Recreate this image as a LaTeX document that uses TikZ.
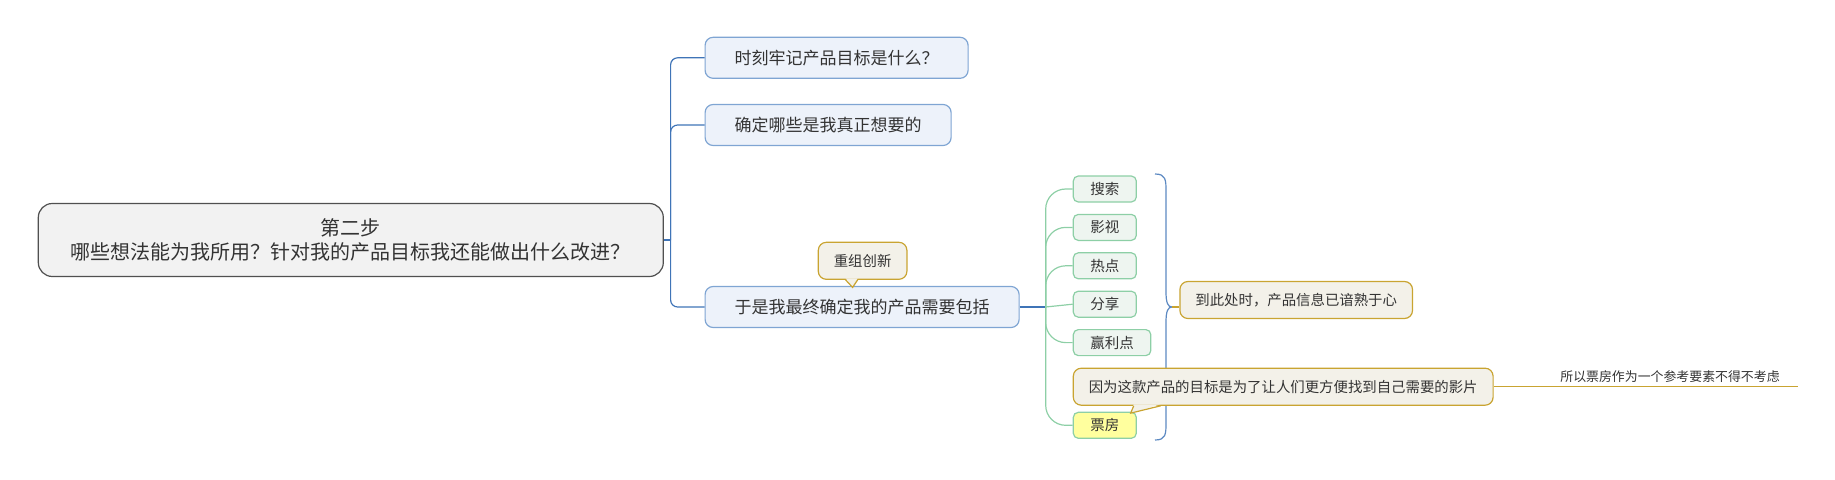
\documentclass[tikz,border=0pt]{standalone}
\usepackage{fontspec}
\setmainfont{Noto Sans CJK SC}
\usetikzlibrary{calc}

\definecolor{rootfill}{HTML}{F2F2F2}
\definecolor{rootedge}{HTML}{505050}
\definecolor{bluefill}{HTML}{EDF2FA}
\definecolor{blueedge}{HTML}{7FA5D3}
\definecolor{blueline}{HTML}{3F74B7}
\definecolor{greenfill}{HTML}{EEF5F0}
\definecolor{greenedge}{HTML}{8DCFA6}
\definecolor{boxoffice}{HTML}{FFFF9E}
\definecolor{notefill}{HTML}{F3F1E9}
\definecolor{noteedge}{HTML}{C9A431}
\definecolor{inkgray}{HTML}{333333}

\tikzset{
  rootbox/.style={draw=rootedge, fill=rootfill, line width=1.2pt, rounded corners=14pt,
    minimum width=625pt, minimum height=73pt, align=center, text=inkgray,
    font=\fontsize{20}{24}\selectfont},
  topicbox/.style={draw=blueedge, fill=bluefill, line width=1.2pt, rounded corners=8pt,
    minimum height=41pt, inner xsep=29.5pt, anchor=west, text=inkgray,
    font=\fontsize{17}{20}\selectfont},
  leafbox/.style={draw=greenedge, fill=greenfill, line width=1.2pt, rounded corners=5pt,
    minimum height=26pt, inner xsep=17pt, anchor=west, text=inkgray,
    font=\fontsize{14.5}{17}\selectfont},
  notebox/.style={draw=noteedge, fill=notefill, line width=1.2pt, rounded corners=8pt,
    minimum height=37pt, inner xsep=15.5pt, anchor=west, text=inkgray,
    font=\fontsize{14.4}{17}\selectfont},
  blueconn/.style={draw=blueline, line width=1.2pt},
  greenconn/.style={draw=greenedge, line width=1.2pt, rounded corners=20pt},
  goldconn/.style={draw=noteedge, line width=1.2pt},
}

\begin{document}
\begin{tikzpicture}[x=1pt, y=-1pt]
\useasboundingbox (0,0) rectangle (1835,479);

% main topic
\node[rootbox] (root) at (350.8,240) {第二步\\哪些想法能为我所用？针对我的产品目标我还能做出什么改进？};

% three sub topics
\node[topicbox] (c1) at (704.5,57.8) {时刻牢记产品目标是什么？};
\node[topicbox] (c2) at (704.5,125) {确定哪些是我真正想要的};
\node[topicbox] (c3) at (704.5,307) {于是我最终确定我的产品需要包括};

\coordinate (trunk) at ($(root.east)+(6.7,0)$);
\draw[blueconn] (root.east) -- (trunk);
\foreach \c in {c1,c2,c3}
\draw[blueconn, rounded corners=7pt] (trunk) |- (\c.west);

% callout above c3
\node[notebox] (n0) at (817.7,260.8) {重组创新};
\fill[notefill] ($(n0.south)+(-17,-1.5)$) -- ($(n0.south)+(-10,7.5)$) -- ($(n0.south)+(-5,-1.5)$) -- cycle;
\draw[goldconn] ($(n0.south)+(-17,0)$) -- ($(n0.south)+(-10,7.5)$) -- ($(n0.south)+(-5,0)$);

% leaves
\foreach \t [count=\i] in {搜索,影视,热点,分享,赢利点}
\node[leafbox] (l\i) at (1072.7,{189+38.4*(\i-1)}) {\t};
\node[leafbox, fill=boxoffice] (l6) at (1072.7,425.3) {票房};

\coordinate (gsplit) at ($(c3.east)+(26,0)$);
\draw[blueconn] (c3.east) -- (gsplit);
\foreach \n in {l1,l2,l3,l5,l6}
\draw[greenconn] (gsplit) |- (\n.west);
\draw[greenconn] (gsplit) -- (l4.west);

% summary brace
\coordinate (btip) at (1172,307);
\draw[draw=blueline!85!white, line width=1.2pt] (1155,174) .. controls (1166,174) and (1166,180) .. (1166,192)
  -- (1166,292) .. controls (1166,303) and (1168,307) .. (btip)
  .. controls (1168,307) and (1166,311) .. (1166,322)
  -- (1166,422) .. controls (1166,434) and (1166,440) .. (1155,440);

\node[notebox] (n1) at (1179.3,300) {到此处时，产品信息已谙熟于心};
\draw[goldconn] (btip) -- (btip -| n1.west);

% callout on the box office leaf
\node[notebox] (n2) at (1072.7,386.7) {因为这款产品的目标是为了让人们更方便找到自己需要的影片};
\fill[notefill] ($(n2.south)+(-149.5,-1.5)$) -- ($(n2.south)+(-152.5,7.3)$) -- ($(n2.south)+(-122.5,-1.5)$) -- cycle;
\draw[goldconn] ($(n2.south)+(-149.5,0)$) -- ($(n2.south)+(-152.5,7.3)$) -- ($(n2.south)+(-122.5,0)$);

\coordinate (rend) at (1797.7,386.7);
\draw[goldconn] (n2.east) -- (rend);
\node[text=inkgray, font=\fontsize{12.9}{15}\selectfont] (why) at (1670,376.7) {所以票房作为一个参考要素不得不考虑};

\end{tikzpicture}
\end{document}
